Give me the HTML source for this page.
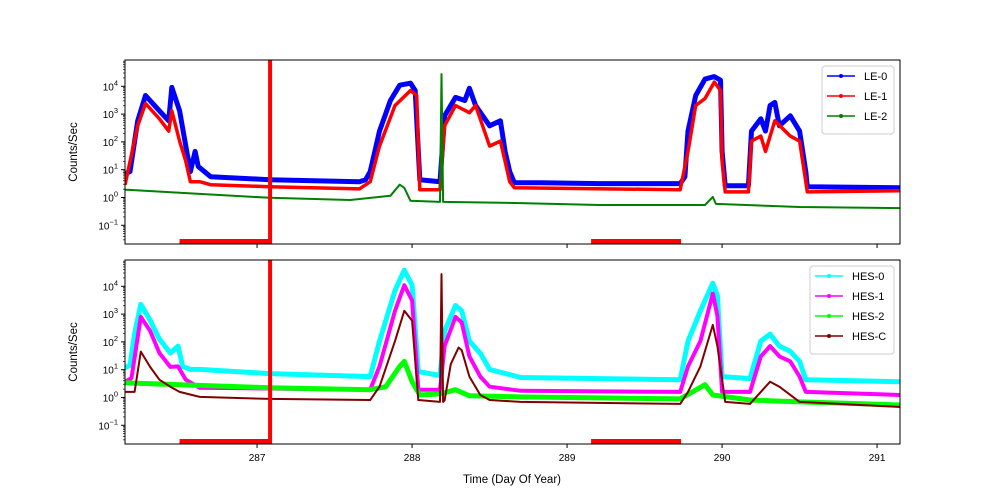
<!DOCTYPE html>
<html><head><meta charset="utf-8"><style>
html,body{margin:0;padding:0;background:#fff;}
svg{display:block;font-family:"Liberation Sans","DejaVu Sans",sans-serif;}
</style></head><body>
<svg id="chart" width="1000" height="500" viewBox="0 0 1000 500" xmlns="http://www.w3.org/2000/svg">
<rect width="1000" height="500" fill="#fff"/>
<g id="g"></g>
<text x="512" y="483" font-size="11.5" text-anchor="middle">Time (Day Of Year)</text>
<text transform="translate(77,152) rotate(-90)" font-size="11.5" text-anchor="middle">Counts/Sec</text>
<text transform="translate(77,352) rotate(-90)" font-size="11.5" text-anchor="middle">Counts/Sec</text>
</svg>
<script>
// ---- data (day of year, log10 counts/sec) ----
const le0Days=[286.15,286.18,286.23,286.28,286.37,286.43,286.45,286.50,286.54,286.57,286.60,286.62,286.70,287.08,287.66,287.70,287.73,287.79,287.86,287.92,287.99,288.02,288.05,288.18,288.21,288.28,288.34,288.37,288.41,288.50,288.57,288.60,288.63,288.66,288.83,289.21,289.73,289.76,289.78,289.83,289.89,289.95,289.99,290.00,290.02,290.17,290.19,290.25,290.28,290.31,290.34,290.37,290.44,290.50,290.54,290.55,291.15];
const le0Vals=[0.86,0.93,2.76,3.67,3.12,2.76,3.96,3.12,1.85,0.93,1.66,1.12,0.75,0.64,0.57,0.64,0.93,2.39,3.49,4.04,4.11,3.85,0.64,0.57,2.94,3.60,3.49,3.93,3.31,2.58,2.76,1.66,0.93,0.53,0.53,0.50,0.50,0.75,2.39,3.67,4.26,4.35,4.22,1.66,0.42,0.42,2.39,2.83,2.39,3.31,3.42,2.58,2.94,2.39,0.93,0.39,0.35];
const le1Days=[286.15,286.23,286.28,286.37,286.43,286.45,286.50,286.54,286.57,286.63,286.70,287.08,287.66,287.73,287.79,287.89,287.99,288.03,288.05,288.18,288.21,288.28,288.37,288.41,288.50,288.57,288.60,288.63,288.66,289.73,289.78,289.83,289.89,289.95,289.99,290.00,290.02,290.17,290.19,290.25,290.28,290.34,290.44,290.50,290.54,290.55,291.15];
const le1Vals=[0.50,2.58,3.38,2.83,2.39,3.12,2.03,1.30,0.57,0.57,0.46,0.39,0.31,0.57,1.85,3.31,3.85,3.67,0.28,0.28,2.58,3.31,3.05,3.31,1.85,2.03,1.30,0.57,0.35,0.28,1.66,3.31,3.56,4.15,3.85,1.30,0.20,0.20,2.03,2.21,1.66,2.76,2.21,2.03,0.57,0.20,0.24];
const le2Days=[286.15,286.50,287.08,287.60,287.86,287.92,287.95,287.99,288.18,288.19,288.20,288.70,289.21,289.89,289.94,289.96,290.50,291.15];
const le2Vals=[0.28,0.17,-0.01,-0.09,0.06,0.46,0.35,-0.12,-0.16,4.44,-0.16,-0.20,-0.27,-0.27,0.02,-0.23,-0.34,-0.38];
const h0Days=[286.15,286.18,286.21,286.25,286.31,286.37,286.44,286.49,286.52,286.57,286.63,287.08,287.73,287.79,287.89,287.95,288.00,288.04,288.18,288.21,288.28,288.32,288.37,288.44,288.50,288.70,289.73,289.78,289.86,289.94,289.97,290.00,290.18,290.25,290.31,290.37,290.44,290.50,290.54,291.15];
const h0Vals=[1.08,1.15,2.30,3.35,2.78,2.10,1.60,1.85,1.12,1.01,1.01,0.86,0.75,2.03,3.85,4.58,4.04,0.93,0.79,2.39,3.31,3.12,2.03,1.59,1.01,0.72,0.64,2.03,3.12,4.11,3.67,0.75,0.68,2.03,2.28,1.85,1.66,1.30,0.64,0.57];
const h1Days=[286.15,286.19,286.25,286.31,286.37,286.44,286.49,286.54,286.63,287.73,287.79,287.89,287.95,288.00,288.04,288.18,288.21,288.28,288.32,288.37,288.44,288.50,288.70,289.73,289.78,289.86,289.94,289.97,290.00,290.18,290.25,290.31,290.37,290.44,290.50,290.54,291.15];
const h1Vals=[0.57,0.70,2.90,2.40,1.60,1.10,1.12,0.64,0.35,0.28,1.12,3.12,4.04,3.49,0.28,0.28,1.85,2.90,2.70,1.48,0.75,0.39,0.24,0.20,1.12,2.03,3.74,2.94,0.20,0.20,1.48,1.85,1.48,1.30,0.75,0.20,0.09];
const h2Days=[286.15,286.50,287.08,287.73,287.83,287.92,287.95,288.00,288.05,288.18,288.28,288.37,288.70,289.73,289.89,289.94,290.18,290.50,291.15];
const h2Vals=[0.53,0.46,0.35,0.28,0.39,1.12,1.30,0.57,0.09,0.13,0.28,0.06,0.02,-0.05,0.46,0.09,-0.09,-0.16,-0.27];
const hcDays=[286.15,286.21,286.25,286.31,286.37,286.44,286.50,286.63,287.08,287.73,287.79,287.89,287.95,288.00,288.04,288.18,288.19,288.20,288.21,288.25,288.30,288.32,288.37,288.44,288.50,288.70,289.73,289.78,289.86,289.94,289.97,290.02,290.18,290.25,290.31,290.37,290.50,291.15];
const hcVals=[0.20,0.20,1.65,1.10,0.64,0.39,0.20,0.02,-0.05,-0.09,0.39,2.03,3.12,2.76,-0.09,-0.16,4.44,-0.16,-0.10,1.20,1.80,1.70,0.75,0.09,-0.09,-0.16,-0.23,0.20,1.12,2.61,1.85,-0.16,-0.23,0.20,0.57,0.39,-0.16,-0.34];
const xTicks=[287,288,289,290,291];
const yTicks=[-1,0,1,2,3,4];
const onDays=[287.084];
const barStarts=[286.50,289.155];
const barEnds=[287.08,289.735];

// ---- scales ----
const NS="http://www.w3.org/2000/svg";
const X0=125,X1=900,D0=286.148,D1=291.148;
function xs(d){return X0+(d-D0)/(D1-D0)*(X1-X0);}
function ysF(top){return l=>top+137.5-27.8*l;}
const g=document.getElementById('g');
function mk(tag,attrs,parent){const e=document.createElementNS(NS,tag);for(const k in attrs)e.setAttribute(k,attrs[k]);(parent||g).appendChild(e);return e;}

function panel(top,name,series,legend,showLabels){
  const ys=ysF(top);
  const pg=mk('g',{});
  
  
  const clipId='clip'+top;
  const cp=mk('clipPath',{id:clipId},pg);mk('rect',{x:X0,y:top,width:X1-X0,height:184},cp);
  const plot=mk('g',{'clip-path':'url(#'+clipId+')'},pg);
  series.forEach(s=>{
    const pts=s.d.map((d,i)=>xs(d).toFixed(1)+','+ys(s.v[i]).toFixed(1)).join(' ');
    const pl=mk('polyline',{points:pts,fill:'none',stroke:s.c,'stroke-width':s.w,'stroke-linejoin':'round','stroke-linecap':'round'},plot);
    
    
  });
  onDays.forEach(d=>{
    const l=mk('line',{x1:xs(d),x2:xs(d),y1:top,y2:top+184,stroke:'#ff0000','stroke-width':4},plot);
    
    
  });
  barStarts.forEach((b,i)=>{
    const r=mk('rect',{x:xs(b),y:top+179,width:xs(barEnds[i])-xs(b),height:5,fill:'#ff0000'},plot);
    
    
  });
  mk('rect',{x:X0,y:top,width:X1-X0,height:184,fill:'none',stroke:'#000','stroke-width':1},pg);
  xTicks.forEach(t=>{
    mk('line',{x1:xs(t),x2:xs(t),y1:top+184,y2:top+188,stroke:'#000'},pg);
    if(showLabels){const tx=mk('text',{x:xs(t),y:top+201,'font-size':10,'text-anchor':'middle'},pg);tx.textContent=t;
      
      }
  });
  for(let e=-2;e<=4;e++){for(let m=2;m<=9;m++){const yy=ys(e+Math.log10(m));if(yy>top&&yy<top+184)mk('line',{x1:X0-2,x2:X0,y1:yy,y2:yy,stroke:'#000','stroke-width':0.7},pg);}}
  yTicks.forEach(t=>{
    const yy=ys(t);
    mk('line',{x1:X0-4,x2:X0,y1:yy,y2:yy,stroke:'#000'},pg);
    const tx=mk('text',{x:X0-7,y:yy+4,'font-size':10,'text-anchor':'end'},pg);
    tx.textContent='10';
    
    
    const sp=mk('tspan',{dy:-5,'font-size':7.5},tx);sp.textContent=t<0?'\u22121':String(t);
  });
  // legend
  const lw=legend.w,lx=X1-6-lw,ly=top+6,lh=8+20*series.length;
  const lg=mk('g',{},pg);
  
  
  mk('rect',{x:lx,y:ly,width:lw,height:lh,rx:3,fill:'#fff','fill-opacity':0.85,stroke:'#ccc'},lg);
  series.forEach((s,i)=>{
    const yy=ly+14+20*i;
    const eg=mk('g',{},lg);
    
    
    mk('line',{x1:lx+5,x2:lx+33,y1:yy-4,y2:yy-4,stroke:s.c,'stroke-width':1.5},eg);
    mk('circle',{cx:lx+19,cy:yy-4,r:2,fill:s.c},eg);
    const tx=mk('text',{x:lx+42,y:yy,'font-size':11},eg);tx.textContent=s.label;
  });
}
panel(60,'top-panel-le',[
  {d:le0Days,v:le0Vals,c:'#0000ff',w:5,name:'line-le-0',label:'LE-0'},
  {d:le1Days,v:le1Vals,c:'#ff0000',w:3.5,name:'line-le-1',label:'LE-1'},
  {d:le2Days,v:le2Vals,c:'#008000',w:2,name:'line-le-2',label:'LE-2'}
],{w:72},false);
panel(260,'bottom-panel-hes',[
  {d:h0Days,v:h0Vals,c:'#00ffff',w:5,name:'line-hes-0',label:'HES-0'},
  {d:h1Days,v:h1Vals,c:'#ff00ff',w:4,name:'line-hes-1',label:'HES-1'},
  {d:h2Days,v:h2Vals,c:'#00ff00',w:5,name:'line-hes-2',label:'HES-2'},
  {d:hcDays,v:hcVals,c:'#800000',w:2,name:'line-hes-c',label:'HES-C'}
],{w:84},true);
</script>
</body></html>
